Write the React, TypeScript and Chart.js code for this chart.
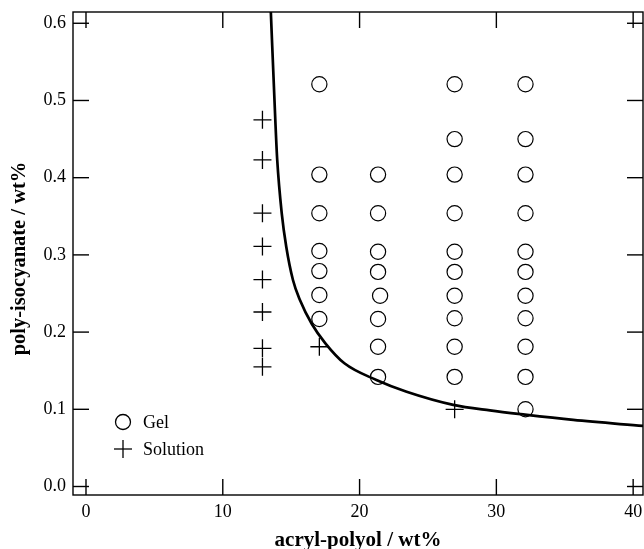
import { useEffect, useRef } from 'react';
import { Chart, registerables } from 'chart.js';

Chart.register(...registerables);

// Solution (no gelation) compositions
const solutionX = [12.9, 12.9, 12.9, 12.9, 12.9, 12.9, 12.9, 12.9, 17.06, 26.95];
const solutionY = [0.475, 0.423, 0.354, 0.311, 0.268, 0.226, 0.179, 0.155, 0.181, 0.1];

// Gel compositions, column by column
const gelX = [
  17.06, 17.06, 17.06, 17.06, 17.06, 17.06, 17.06,
  21.35, 21.35, 21.35, 21.35, 21.5, 21.35, 21.35, 21.35,
  26.95, 26.95, 26.95, 26.95, 26.95, 26.95, 26.95, 26.95, 26.95, 26.95,
  32.13, 32.13, 32.13, 32.13, 32.13, 32.13, 32.13, 32.13, 32.13, 32.13, 32.13,
];
const gelY = [
  0.521, 0.404, 0.354, 0.305, 0.279, 0.248, 0.217,
  0.404, 0.354, 0.304, 0.278, 0.247, 0.217, 0.181, 0.142,
  0.521, 0.45, 0.404, 0.354, 0.304, 0.278, 0.247, 0.218, 0.181, 0.142,
  0.521, 0.45, 0.404, 0.354, 0.304, 0.278, 0.247, 0.218, 0.181, 0.142, 0.1,
];

// Sol-gel boundary line
const boundaryX = [13.5, 13.84, 13.98, 14.31, 14.64, 15.13, 15.64, 16.51, 17.5, 18.89, 21.23, 23.44, 26.85, 29.53, 32.09, 35.62, 40.74];
const boundaryY = [0.62, 0.4747, 0.4229, 0.3539, 0.3106, 0.2675, 0.2416, 0.2105, 0.1855, 0.1596, 0.138, 0.1228, 0.1058, 0.0985, 0.093, 0.0862, 0.0784];

const xTickStep = 10;
const yTickStep = 0.1;

const xTitle = 'acryl-polyol / wt%';
const yTitle = 'poly-isocyanate / wt%';

const FONT = "'Liberation Serif', 'Times New Roman', serif";

const toPoints = (xs: number[], ys: number[]) => xs.map((x, i) => ({ x, y: ys[i] }));

// Frame with inward ticks on all four sides, the y title and the in-plot legend
const framePlugin = {
  id: 'frameTicks',
  afterDraw(chart: any) {
    const { ctx, chartArea, scales } = chart;
    const { left, right, top, bottom } = chartArea;
    const xs = scales.x;
    const ys = scales.y;
    const tick = 16;
    ctx.save();
    ctx.strokeStyle = '#000';
    ctx.lineWidth = 1.4;
    ctx.lineCap = 'butt';
    ctx.strokeRect(left, top, right - left, bottom - top);
    const seg = (x1: number, y1: number, x2: number, y2: number) => {
      ctx.beginPath();
      ctx.moveTo(x1, y1);
      ctx.lineTo(x2, y2);
      ctx.stroke();
    };
    xs.ticks.forEach((t: any) => {
      const px = xs.getPixelForValue(t.value);
      seg(px, bottom, px, bottom - tick);
      seg(px, top, px, top + tick);
    });
    ys.ticks.forEach((t: any) => {
      const py = ys.getPixelForValue(t.value);
      seg(left, py, left + tick, py);
      seg(right, py, right - tick, py);
    });

    // y axis title
    ctx.save();
    ctx.fillStyle = '#000';
    ctx.font = `bold 20.5px ${FONT}`;
    ctx.textAlign = 'center';
    ctx.textBaseline = 'middle';
    ctx.translate(20, (top + bottom) / 2 + 5);
    ctx.rotate(-Math.PI / 2);
    ctx.fillText(yTitle, 0, 0);
    ctx.restore();

    // legend
    const lx = left + 50;
    const gelYpx = bottom - 73;
    const solYpx = bottom - 46;
    ctx.lineWidth = 1.3;
    ctx.beginPath();
    ctx.arc(lx, gelYpx, 7.5, 0, Math.PI * 2);
    ctx.stroke();
    seg(lx - 9, solYpx, lx + 9, solYpx);
    seg(lx, solYpx - 9, lx, solYpx + 9);
    ctx.fillStyle = '#000';
    ctx.font = `18px ${FONT}`;
    ctx.textAlign = 'left';
    ctx.textBaseline = 'middle';
    const labels = chart.data.datasets;
    ctx.fillText(labels[1].label, lx + 20, gelYpx + 1);
    ctx.fillText(labels[2].label, lx + 20, solYpx + 1);
    ctx.restore();
  },
};

export default function App() {
  const canvasRef = useRef<HTMLCanvasElement | null>(null);

  useEffect(() => {
    if (!canvasRef.current) return;
    const chart = new Chart(canvasRef.current, {
      type: 'scatter',
      data: {
        datasets: [
          {
            type: 'line',
            label: 'boundary',
            data: toPoints(boundaryX, boundaryY),
            borderColor: '#000',
            borderWidth: 2.7,
            pointRadius: 0,
            fill: false,
            cubicInterpolationMode: 'monotone',
          },
          {
            label: 'Gel',
            data: toPoints(gelX, gelY),
            pointStyle: 'circle',
            pointRadius: 7.6,
            pointBorderWidth: 1.2,
            borderColor: '#000',
            backgroundColor: 'rgba(0,0,0,0)',
          },
          {
            label: 'Solution',
            data: toPoints(solutionX, solutionY),
            pointStyle: 'cross',
            pointRadius: 9,
            pointBorderWidth: 1.3,
            borderColor: '#000',
            backgroundColor: 'rgba(0,0,0,0)',
          },
        ],
      } as any,
      options: {
        animation: false,
        responsive: false,
        devicePixelRatio: 1,
        layout: { autoPadding: false, padding: { top: 12, right: 1, left: 0, bottom: 0 } },
        plugins: {
          legend: { display: false },
          tooltip: { enabled: false },
        },
        scales: {
          x: {
            type: 'linear',
            min: -0.95,
            max: 40.72,
            grid: { display: false, drawTicks: false },
            border: { display: false },
            ticks: {
              stepSize: xTickStep,
              includeBounds: false,
              padding: 6,
              color: '#000',
              font: { family: FONT, size: 18 },
              callback: (v: any) => String(Math.round(v)),
            },
            title: {
              display: true,
              text: xTitle,
              color: '#000',
              font: { family: FONT, size: 21, weight: 'bold', lineHeight: 0.8 },
              padding: { top: 0, bottom: 0 },
            },
            afterFit: (s: any) => {
              s.height = 54;
              s.paddingLeft = 0;
              s.paddingRight = 0;
            },
          },
          y: {
            type: 'linear',
            min: -0.011,
            max: 0.6146,
            grid: { display: false, drawTicks: false },
            border: { display: false },
            ticks: {
              stepSize: yTickStep,
              includeBounds: false,
              padding: 7,
              color: '#000',
              font: { family: FONT, size: 18 },
              callback: (v: any) => Number(v).toFixed(1),
            },
            title: { display: false, text: yTitle },
            afterFit: (s: any) => {
              s.width = 73;
              s.paddingTop = 0;
              s.paddingBottom = 0;
            },
          },
        },
      } as any,
      plugins: [framePlugin],
    });
    return () => chart.destroy();
  }, []);

  return (
    <div style={{ position: 'absolute', left: 0, top: 0, width: 644, height: 549, background: '#fff' }}>
      <canvas ref={canvasRef} width={644} height={549} style={{ display: 'block', width: 644, height: 549 }} />
    </div>
  );
}
